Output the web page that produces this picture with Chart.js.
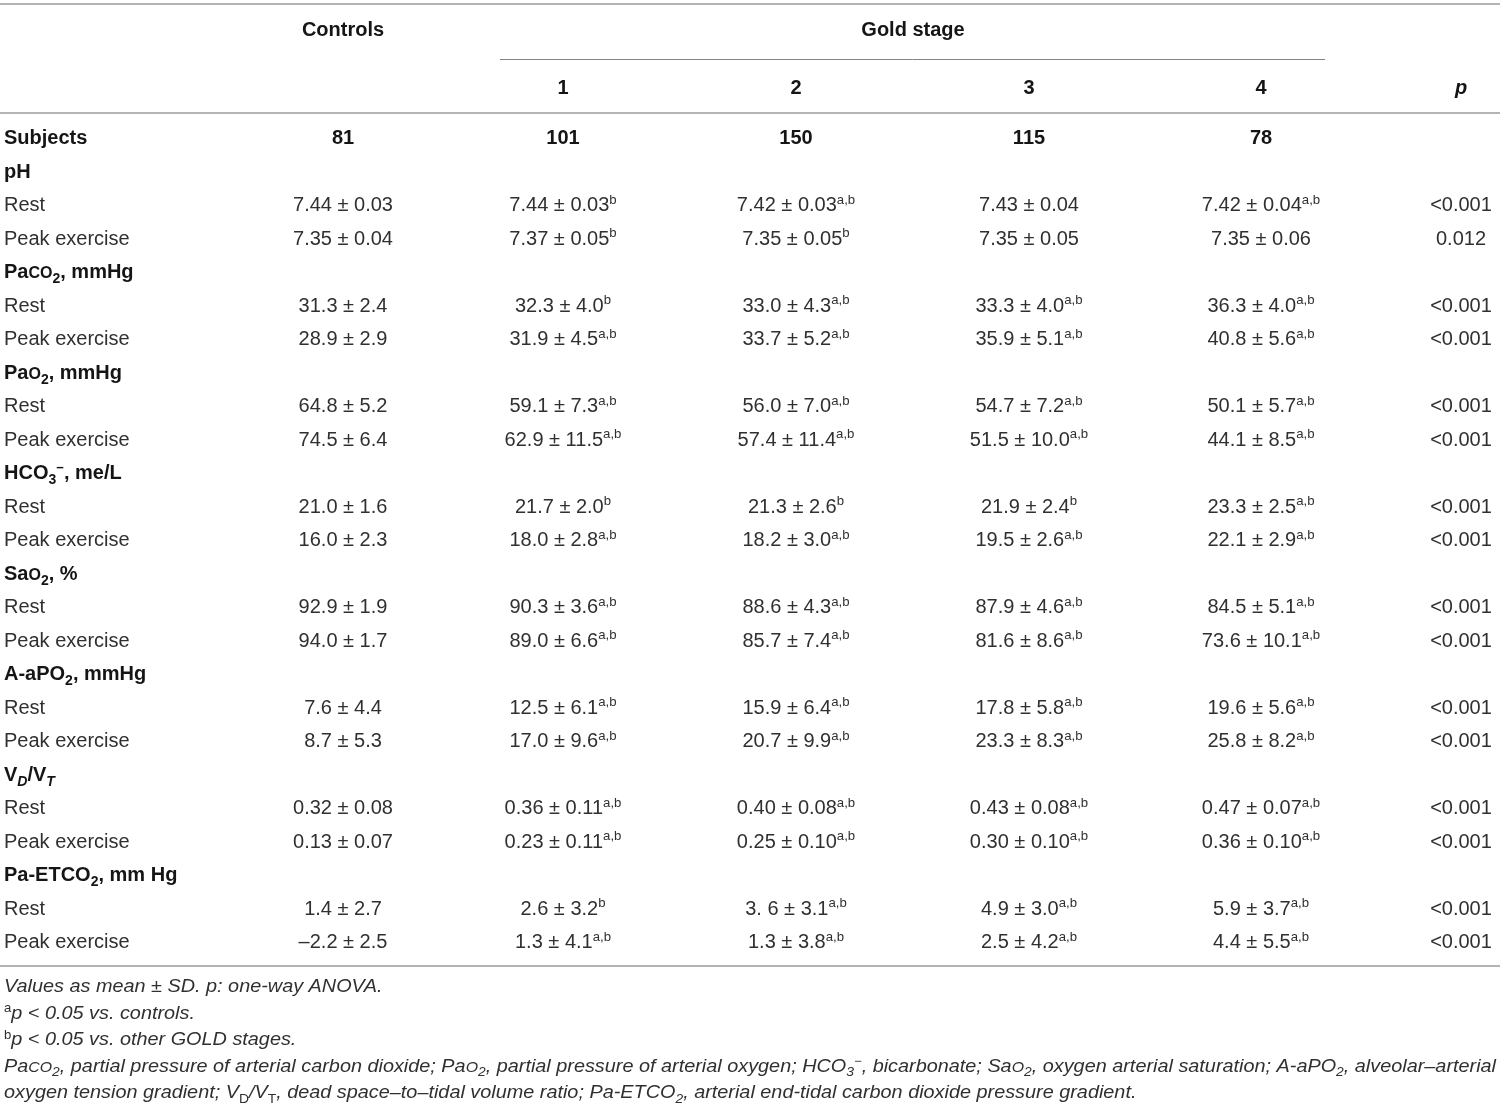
<!DOCTYPE html>
<html>
<head>
<meta charset="utf-8">
<script src="https://cdn.jsdelivr.net/npm/chart.js@4.4.1/dist/chart.umd.min.js"></script>
<style>
  html, body { margin: 0; padding: 0; background: #fff; }
  #wrap { width: 1500px; height: 1107px; position: relative; }
</style>
</head>
<body>
<div id="wrap"><canvas id="table"></canvas></div>
<script>
// ---- data (markup: _{sub} ^{sup} ~{small caps} *{italic} !{upright}) ----
var groupLabels = ['Controls', '1', '2', '3', '4'];
var subjects = ['81', '101', '150', '115', '78'];
var variables = ['pH', 'Pa~{CO}_{2}, mmHg', 'Pa~{O}_{2}, mmHg', 'HCO_{3}^{−}, me/L',
                 'Sa~{O}_{2}, %', 'A-aPO_{2}, mmHg', 'V_{*{D}}/V_{*{T}}', 'Pa-ETCO_{2}, mm Hg'];

var restValues = [
  ['7.44 ± 0.03', '7.44 ± 0.03', '7.42 ± 0.03', '7.43 ± 0.04', '7.42 ± 0.04'],
  ['31.3 ± 2.4', '32.3 ± 4.0', '33.0 ± 4.3', '33.3 ± 4.0', '36.3 ± 4.0'],
  ['64.8 ± 5.2', '59.1 ± 7.3', '56.0 ± 7.0', '54.7 ± 7.2', '50.1 ± 5.7'],
  ['21.0 ± 1.6', '21.7 ± 2.0', '21.3 ± 2.6', '21.9 ± 2.4', '23.3 ± 2.5'],
  ['92.9 ± 1.9', '90.3 ± 3.6', '88.6 ± 4.3', '87.9 ± 4.6', '84.5 ± 5.1'],
  ['7.6 ± 4.4', '12.5 ± 6.1', '15.9 ± 6.4', '17.8 ± 5.8', '19.6 ± 5.6'],
  ['0.32 ± 0.08', '0.36 ± 0.11', '0.40 ± 0.08', '0.43 ± 0.08', '0.47 ± 0.07'],
  ['1.4 ± 2.7', '2.6 ± 3.2', '3. 6 ± 3.1', '4.9 ± 3.0', '5.9 ± 3.7']
];
var restSig = [
  ['', 'b', 'a,b', '', 'a,b'],
  ['', 'b', 'a,b', 'a,b', 'a,b'],
  ['', 'a,b', 'a,b', 'a,b', 'a,b'],
  ['', 'b', 'b', 'b', 'a,b'],
  ['', 'a,b', 'a,b', 'a,b', 'a,b'],
  ['', 'a,b', 'a,b', 'a,b', 'a,b'],
  ['', 'a,b', 'a,b', 'a,b', 'a,b'],
  ['', 'b', 'a,b', 'a,b', 'a,b']
];
var restP = ['<0.001', '<0.001', '<0.001', '<0.001', '<0.001', '<0.001', '<0.001', '<0.001'];

var peakValues = [
  ['7.35 ± 0.04', '7.37 ± 0.05', '7.35 ± 0.05', '7.35 ± 0.05', '7.35 ± 0.06'],
  ['28.9 ± 2.9', '31.9 ± 4.5', '33.7 ± 5.2', '35.9 ± 5.1', '40.8 ± 5.6'],
  ['74.5 ± 6.4', '62.9 ± 11.5', '57.4 ± 11.4', '51.5 ± 10.0', '44.1 ± 8.5'],
  ['16.0 ± 2.3', '18.0 ± 2.8', '18.2 ± 3.0', '19.5 ± 2.6', '22.1 ± 2.9'],
  ['94.0 ± 1.7', '89.0 ± 6.6', '85.7 ± 7.4', '81.6 ± 8.6', '73.6 ± 10.1'],
  ['8.7 ± 5.3', '17.0 ± 9.6', '20.7 ± 9.9', '23.3 ± 8.3', '25.8 ± 8.2'],
  ['0.13 ± 0.07', '0.23 ± 0.11', '0.25 ± 0.10', '0.30 ± 0.10', '0.36 ± 0.10'],
  ['–2.2 ± 2.5', '1.3 ± 4.1', '1.3 ± 3.8', '2.5 ± 4.2', '4.4 ± 5.5']
];
var peakSig = [
  ['', 'b', 'b', '', ''],
  ['', 'a,b', 'a,b', 'a,b', 'a,b'],
  ['', 'a,b', 'a,b', 'a,b', 'a,b'],
  ['', 'a,b', 'a,b', 'a,b', 'a,b'],
  ['', 'a,b', 'a,b', 'a,b', 'a,b'],
  ['', 'a,b', 'a,b', 'a,b', 'a,b'],
  ['', 'a,b', 'a,b', 'a,b', 'a,b'],
  ['', 'a,b', 'a,b', 'a,b', 'a,b']
];
var peakP = ['0.012', '<0.001', '<0.001', '<0.001', '<0.001', '<0.001', '<0.001', '<0.001'];

var footnotes = [
  'Values as mean ± SD. p: one-way ANOVA.',
  '!{^{a}}p < 0.05 vs. controls.',
  '!{^{b}}p < 0.05 vs. other GOLD stages.',
  'Pa~{CO}_{2}, partial pressure of arterial carbon dioxide; Pa~{O}_{2}, partial pressure of arterial oxygen; HCO_{3}^{−}, bicarbonate; Sa~{O}_{2}, oxygen arterial saturation; A-aPO_{2}, alveolar–arterial',
  'oxygen tension gradient; V!{_{D}}/V!{_{T}}, dead space–to–tidal volume ratio; Pa-ETCO_{2}, arterial end-tidal carbon dioxide pressure gradient.'
];

// ---- layout ----
var W = 1500, H = 1107;
var ROW_PITCH = 33.5, FIRST_ROW_PX = 137;
var Y_MIN = -FIRST_ROW_PX / ROW_PITCH, Y_MAX = Y_MIN + H / ROW_PITCH;
function toRow(px) { return Y_MIN + px / ROW_PITCH; }

var LEFT_X = 4;
var colX = [343, 563, 796, 1029, 1261];
var P_X = 1461, GOLD_X = 913;
var TITLE_ROW = toRow(29), SUB_ROW = toRow(87);
var FOOT_ROW0 = toRow(986), FOOT_PITCH = 26.5 / ROW_PITCH, FOOT_RIGHT = 1496;
var rules = [
  { row: toRow(4), from: 0, to: W, width: 2, color: '#b4b4b4' },
  { row: toRow(58.5), from: 500, to: 1325, width: 1, color: '#858585' },
  { row: toRow(113), from: 0, to: W, width: 2, color: '#b4b4b4' },
  { row: toRow(966), from: 0, to: W, width: 2, color: '#b4b4b4' }
];

// ---- rich text ----
function parseRich(str, base) {
  var out = [];
  function walk(s, st) {
    var buf = '', i = 0;
    while (i < s.length) {
      var c = s[i];
      if ('_^~*!'.indexOf(c) >= 0 && s[i + 1] === '{') {
        if (buf) { out.push(Object.assign({ text: buf }, st)); buf = ''; }
        var depth = 0, j = i + 1;
        for (; j < s.length; j++) {
          if (s[j] === '{') depth++;
          else if (s[j] === '}') { depth--; if (depth === 0) break; }
        }
        var ns = Object.assign({}, st);
        if (c === '_') { ns.shift += 0.24 * st.scale; ns.scale *= 0.7; }
        if (c === '^') { ns.shift -= 0.38 * st.scale; ns.scale *= 0.66; }
        if (c === '~') { ns.scale *= 0.8; }
        if (c === '*') { ns.italic = true; }
        if (c === '!') { ns.italic = false; }
        walk(s.slice(i + 2, j), ns);
        i = j + 1;
      } else { buf += c; i++; }
    }
    if (buf) out.push(Object.assign({ text: buf }, st));
  }
  walk(str, { scale: 1, shift: 0, bold: !!base.bold, italic: !!base.italic });
  return out;
}
function fontFor(seg, size) {
  return (seg.italic ? 'italic ' : '') + (seg.bold ? 'bold ' : '') +
    (size * seg.scale).toFixed(2) + 'px "Liberation Sans", Arial, sans-serif';
}
function richWidth(ctx, segs, size) {
  var w = 0;
  segs.forEach(function (s) { ctx.font = fontFor(s, size); s.w = ctx.measureText(s.text).width; w += s.w; });
  return w;
}
function drawRich(ctx, segs, x, y, align, size, kx) {
  var w = richWidth(ctx, segs, size) * kx;
  var sx = align === 'left' ? x : (align === 'right' ? x - w : x - w / 2);
  ctx.save();
  ctx.translate(sx, y + 0.36 * size);
  ctx.scale(kx, 1);
  ctx.textBaseline = 'alphabetic';
  ctx.textAlign = 'left';
  var cx = 0;
  segs.forEach(function (s) {
    ctx.font = fontFor(s, size);
    ctx.fillText(s.text, cx, s.shift * size);
    cx += s.w;
  });
  ctx.restore();
}

// ---- build cells ----
function withSig(v, s) { return s ? v + '^{' + s + '}' : v; }

var labelCells = [{ x: LEFT_X, y: 0, text: 'Subjects', bold: true }];
variables.forEach(function (v, k) {
  labelCells.push({ x: LEFT_X, y: 1 + 3 * k, text: v, bold: true });
  labelCells.push({ x: LEFT_X, y: 2 + 3 * k, text: 'Rest' });
  labelCells.push({ x: LEFT_X, y: 3 + 3 * k, text: 'Peak exercise' });
});

var headerCells = [
  { x: colX[0], y: TITLE_ROW, text: groupLabels[0], bold: true },
  { x: GOLD_X, y: TITLE_ROW, text: 'Gold stage', bold: true },
  { x: P_X, y: SUB_ROW, text: 'p', bold: true, italic: true }
];
for (var g = 1; g < groupLabels.length; g++) {
  headerCells.push({ x: colX[g], y: SUB_ROW, text: groupLabels[g], bold: true });
}

var valueCells = [];
groupLabels.forEach(function (lab, g) {
  valueCells.push({ x: colX[g], y: 0, text: subjects[g], bold: true });
  variables.forEach(function (v, k) {
    valueCells.push({ x: colX[g], y: 2 + 3 * k, text: withSig(restValues[k][g], restSig[k][g]) });
    valueCells.push({ x: colX[g], y: 3 + 3 * k, text: withSig(peakValues[k][g], peakSig[k][g]) });
  });
});
variables.forEach(function (v, k) {
  valueCells.push({ x: P_X, y: 2 + 3 * k, text: restP[k] });
  valueCells.push({ x: P_X, y: 3 + 3 * k, text: peakP[k] });
});

var footCells = footnotes.map(function (t, i) {
  return { x: LEFT_X, y: FOOT_ROW0 + i * FOOT_PITCH, text: t, italic: true };
});

// ---- plugin that writes the cells at the points placed by the scales ----
var tablePlugin = {
  id: 'tableText',
  beforeDraw: function (chart) {
    var ctx = chart.ctx;
    ctx.save();
    ctx.fillStyle = '#fff';
    ctx.fillRect(0, 0, chart.width, chart.height);
    ctx.restore();
  },
  afterDatasetsDraw: function (chart) {
    var ctx = chart.ctx, xs = chart.scales.x, ys = chart.scales.y;
    rules.forEach(function (r) {
      var y = Math.round(ys.getPixelForValue(r.row)) + (r.width % 2 ? 0.5 : 0);
      ctx.save();
      ctx.strokeStyle = r.color;
      ctx.lineWidth = r.width;
      ctx.beginPath();
      ctx.moveTo(xs.getPixelForValue(r.from), y);
      ctx.lineTo(xs.getPixelForValue(r.to), y);
      ctx.stroke();
      ctx.restore();
    });
    chart.data.datasets.forEach(function (ds, i) {
      var meta = chart.getDatasetMeta(i);
      var kx = 1;
      if (ds.fitWidth) {
        var longest = 0;
        ds.data.forEach(function (c) {
          longest = Math.max(longest, richWidth(ctx, parseRich(c.text, c), ds.fontSize));
        });
        kx = (xs.getPixelForValue(FOOT_RIGHT) - xs.getPixelForValue(LEFT_X)) / longest;
      }
      meta.data.forEach(function (pt, j) {
        var cell = ds.data[j];
        ctx.fillStyle = cell.bold ? '#151515' : '#303030';
        drawRich(ctx, parseRich(cell.text, cell), pt.x, pt.y, ds.textAlign, ds.fontSize, kx);
      });
    });
  }
};

var ctx = document.getElementById('table').getContext('2d');
var chart = new Chart(ctx, {
  type: 'scatter',
  data: {
    datasets: [
      { label: 'labels', data: labelCells, textAlign: 'left', fontSize: 20, pointRadius: 0 },
      { label: 'header', data: headerCells, textAlign: 'center', fontSize: 20, pointRadius: 0 },
      { label: 'values', data: valueCells, textAlign: 'center', fontSize: 20, pointRadius: 0 },
      { label: 'notes', data: footCells, textAlign: 'left', fontSize: 18, fitWidth: true, pointRadius: 0 }
    ]
  },
  options: {
    responsive: true,
    maintainAspectRatio: false,
    animation: false,
    events: [],
    layout: { padding: 0 },
    plugins: { legend: { display: false }, tooltip: { enabled: false } },
    scales: {
      x: { type: 'linear', min: 0, max: W, display: false },
      y: { type: 'linear', min: Y_MIN, max: Y_MAX, reverse: true, display: false }
    }
  },
  plugins: [tablePlugin]
});
</script>
</body>
</html>
